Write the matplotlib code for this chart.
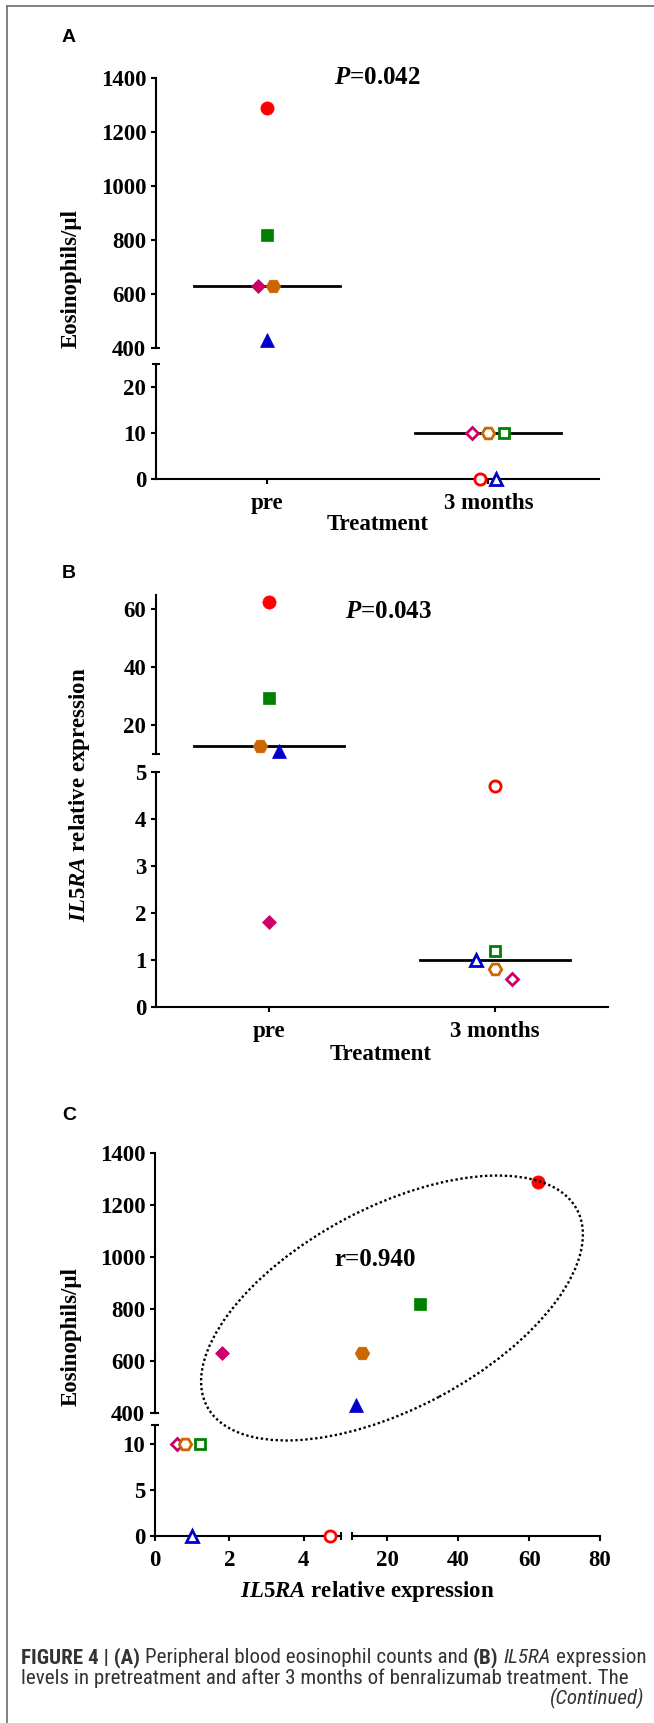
import numpy as np
import matplotlib
matplotlib.use('Agg')
import matplotlib.pyplot as plt
from matplotlib.patches import Ellipse
from matplotlib.lines import Line2D

W, H = 654, 1723
DPI = 100

# ---------------- data ----------------
groups = ['pre', '3 months']
patients = ['P1', 'P2', 'P3', 'P4', 'P5']
colors = ['#ff0000', '#008000', '#0000cc', '#cc0066', '#cc6600']
markers = ['o', 's', '^', 'D', 'H']
eos_pre = [1290, 820, 430, 630, 630]
eos_3m = [0, 10, 0, 10, 10]
il5ra_pre = [62.5, 29.3, 11.0, 1.8, 12.8]
il5ra_3m = [4.7, 1.2, 1.0, 0.6, 0.8]
p_eos = '0.042'
p_il5 = '0.043'
r_text = 'r=0.940'

# horizontal scatter offsets (category units)
jit_A_pre = [0, 0, 0, -0.04, 0.03]
jit_A_3m = [-0.036, 0.073, 0.036, -0.073, 0.0]
jit_B_pre = [0, 0, 0.044, 0, -0.04]
jit_B_3m = [0, 0, -0.084, 0.076, 0]

plt.rcParams['font.family'] = ['Liberation Serif', 'DejaVu Serif']
plt.rcParams['font.weight'] = 'bold'
plt.rcParams['mathtext.fontset'] = 'custom'
plt.rcParams['mathtext.it'] = 'Liberation Serif:italic:bold'
plt.rcParams['mathtext.rm'] = 'Liberation Serif:bold'
plt.rcParams['mathtext.bf'] = 'Liberation Serif:bold'

fig = plt.figure(figsize=(W / DPI, H / DPI), dpi=DPI)

LW = 1.5
TS = 16.5


def ax_px(x0, x1, ytop, ybot):
    return fig.add_axes([x0 / W, 1 - ybot / H, (x1 - x0) / W, (ybot - ytop) / H])


def ftext(x, y, s, **kw):
    return fig.text(x / W, 1 - y / H, s, **kw)


def style(ax, left=True, bottom=False):
    for s in ['top', 'right']:
        ax.spines[s].set_visible(False)
    ax.spines['left'].set_visible(left)
    ax.spines['bottom'].set_visible(bottom)
    for s in ['left', 'bottom']:
        ax.spines[s].set_linewidth(LW)
    ax.tick_params(width=LW, length=3.8, direction='out', labelsize=TS)
    ax.tick_params(axis='y', pad=3.2)
    ax.tick_params(axis='x', pad=6.5)
    if not left:
        ax.set_yticks([])
    if not bottom:
        ax.set_xticks([])
    ax.patch.set_alpha(0)


def cap(ax, x, y, m):
    ax.plot([x], [y], marker=m, color='k', ms=6, mew=LW, transform=ax.transAxes,
            clip_on=False, zorder=5)


def pt(ax, x, y, i, filled=True, ms=9.5):
    m = markers[i]
    size = ms
    if m == 's':
        size = ms * 0.9
    if m == 'D':
        size = ms * 0.75
    if m == 'H':
        size = ms * 1.1
    if filled:
        ax.plot([x], [y], marker=m, ms=size, color=colors[i], mec=colors[i], mew=0.5,
                ls='none', clip_on=False, zorder=4)
    else:
        ax.plot([x], [y], marker=m, ms=size * 0.85, mfc='white', mec=colors[i], mew=2.0,
                ls='none', clip_on=False, zorder=4)


# ================= Panel A =================
axAu = ax_px(156, 599, 78, 348)
axAl = ax_px(156, 599, 364, 479)
for ax in (axAu, axAl):
    ax.set_xlim(-0.5, 1.5)
style(axAu, left=True, bottom=False)
style(axAl, left=True, bottom=True)
axAu.set_ylim(400, 1400)
axAu.set_yticks(range(400, 1401, 200))
axAl.set_ylim(0, 25)
axAl.set_yticks([0, 10, 20])
axAl.set_xticks([0, 1])
axAl.set_xticklabels(groups)
cap(axAu, 0, 0, '_')
cap(axAl, 0, 1, '_')
for i in range(len(patients)):
    pt(axAu, 0 + jit_A_pre[i], eos_pre[i], i, True)
    pt(axAl, 1 + jit_A_3m[i], eos_3m[i], i, False)
axAu.plot([-0.33, 0.33], [np.median(eos_pre)] * 2, color='k', lw=2, zorder=3)
axAl.plot([0.67, 1.33], [np.median(eos_3m)] * 2, color='k', lw=2, zorder=3)
ftext(69, 37, 'A', family='Liberation Sans', weight='bold', fontsize=14, ha='center', va='center')
ftext(377, 77, r'$\mathit{P}$=' + p_eos, fontsize=18, ha='center', va='center')
ftext(71, 278, 'Eosinophils/μl', fontsize=TS, rotation=90, ha='center', va='center')
ftext(378, 525, 'Treatment', fontsize=TS, ha='center', va='center')

# ================= Panel B =================
axBu = ax_px(156, 608, 595, 754)
axBl = ax_px(156, 608, 772, 1007)
for ax in (axBu, axBl):
    ax.set_xlim(-0.5, 1.5)
style(axBu, left=True, bottom=False)
style(axBl, left=True, bottom=True)
axBu.set_ylim(10, 65)
axBu.set_yticks([20, 40, 60])
axBl.set_ylim(0, 5)
axBl.set_yticks(range(0, 6))
axBl.set_xticks([0, 1])
axBl.set_xticklabels(groups)
cap(axBu, 0, 0, '_')
cap(axBl, 0, 1, '_')


def b_ax(v):
    return axBu if v >= 10 else axBl


for i in range(len(patients)):
    pt(b_ax(il5ra_pre[i]), 0 + jit_B_pre[i], il5ra_pre[i], i, True)
    pt(b_ax(il5ra_3m[i]), 1 + jit_B_3m[i], il5ra_3m[i], i, False)
mb_pre = np.median(il5ra_pre)
mb_3m = np.median(il5ra_3m)
b_ax(mb_pre).plot([-0.33, 0.33], [mb_pre] * 2, color='k', lw=2, zorder=3)
b_ax(mb_3m).plot([0.67, 1.33], [mb_3m] * 2, color='k', lw=2, zorder=3)
ftext(69, 573, 'B', family='Liberation Sans', weight='bold', fontsize=14, ha='center', va='center')
ftext(388, 612, r'$\mathit{P}$=' + p_il5, fontsize=18, ha='center', va='center')
ftext(79, 795, r'$\mathit{IL5RA}$ relative expression', fontsize=TS, rotation=90,
      ha='center', va='center')
ftext(381, 1055, 'Treatment', fontsize=TS, ha='center', va='center')

# ================= Panel C =================
axCul = ax_px(155, 341, 1153, 1413)
axCur = ax_px(352, 600, 1153, 1413)
axCll = ax_px(155, 341, 1425, 1536)
axClr = ax_px(352, 600, 1425, 1536)
style(axCul, left=True, bottom=False)
style(axCur, left=False, bottom=False)
style(axCll, left=True, bottom=True)
style(axClr, left=False, bottom=True)
for ax in (axCul, axCll):
    ax.set_xlim(0, 5)
for ax in (axCur, axClr):
    ax.set_xlim(10, 80)
for ax in (axCul, axCur):
    ax.set_ylim(400, 1400)
for ax in (axCll, axClr):
    ax.set_ylim(0, 12)
axCul.set_yticks(range(400, 1401, 200))
axCll.set_yticks([0, 5, 10])
axCll.set_xticks([0, 2, 4])
axClr.set_xticks([20, 40, 60, 80])
cap(axCul, 0, 0, '_')
cap(axCll, 0, 1, '_')
cap(axCll, 1, 0, '|')
cap(axClr, 0, 0, '|')


def c_ax(x, y):
    if y >= 400:
        return axCul if x <= 5 else axCur
    return axCll if x <= 5 else axClr


for i in range(len(patients)):
    pt(c_ax(il5ra_pre[i], eos_pre[i]), il5ra_pre[i], eos_pre[i], i, True)
    pt(c_ax(il5ra_3m[i], eos_3m[i]), il5ra_3m[i], eos_3m[i], i, False)

ell = Ellipse((392 / DPI, (H - 1308) / DPI), 419 / DPI, 201 / DPI, angle=28,
              transform=fig.dpi_scale_trans, fill=False, ec='k', lw=1.7,
              ls=(0, (1, 1.1)), zorder=2)
fig.add_artist(ell)
ftext(69, 1115, 'C', family='Liberation Sans', weight='bold', fontsize=14, ha='center', va='center')
ftext(375, 1260, r_text, fontsize=18, ha='center', va='center')
ftext(71, 1337, 'Eosinophils/μl', fontsize=TS, rotation=90, ha='center', va='center')
ftext(367, 1592, r'$\mathit{IL5RA}$ relative expression', fontsize=TS, ha='center', va='center')

# ================= frame =================
fig.add_artist(Line2D([7 / W, 7 / W], [0, 1 - 6 / H], color='#777777', lw=1.3))
fig.add_artist(Line2D([7 / W, 1], [1 - 6 / H, 1 - 6 / H], color='#777777', lw=1.3))

# ================= caption =================
capfam = ['Liberation Sans Narrow', 'Roboto Condensed', 'Open Sans Condensed', 'Liberation Sans']
capcol = '#333333'
renderer = fig.canvas.get_renderer()


def measure(s, size, **kw):
    t = fig.text(0, 0, s, fontsize=size, family=capfam, stretch='condensed', **kw)
    w = t.get_window_extent(renderer=renderer).width
    t.remove()
    return w


line1 = [('FIGURE 4 | (A)', dict(weight='bold')),
         ('Peripheral blood eosinophil counts and', dict(weight='normal')),
         ('(B)', dict(weight='bold')),
         ('IL5RA', dict(weight='normal', style='italic')),
         ('expression', dict(weight='normal'))]
line2 = 'levels in pretreatment and after 3 months of benralizumab treatment. The'


def runs_width(runs, size):
    sp = measure('a a', size, weight='normal') - measure('aa', size, weight='normal')
    tot = sum(measure(s, size, **kw) for s, kw in runs) + sp * (len(runs) - 1)
    return tot, sp


w10, _ = runs_width(line1, 10)
csize = min(10 * 621 / w10, 15.5)
_, space = runs_width(line1, csize)
x = 21
for s, kw in line1:
    t = ftext(x, 1663, s, fontsize=csize, family=capfam, stretch='condensed', color=capcol,
              va='baseline', ha='left', **kw)
    x += t.get_window_extent(renderer=renderer).width + space
ftext(21, 1684, line2, fontsize=csize, family=capfam, stretch='condensed', color=capcol,
      weight='normal', va='baseline', ha='left')
ftext(644, 1704, '(Continued)', fontsize=csize, family=capfam, stretch='condensed', color=capcol,
      weight='normal', style='italic', va='baseline', ha='right')

fig.savefig('out.png', dpi=DPI)
